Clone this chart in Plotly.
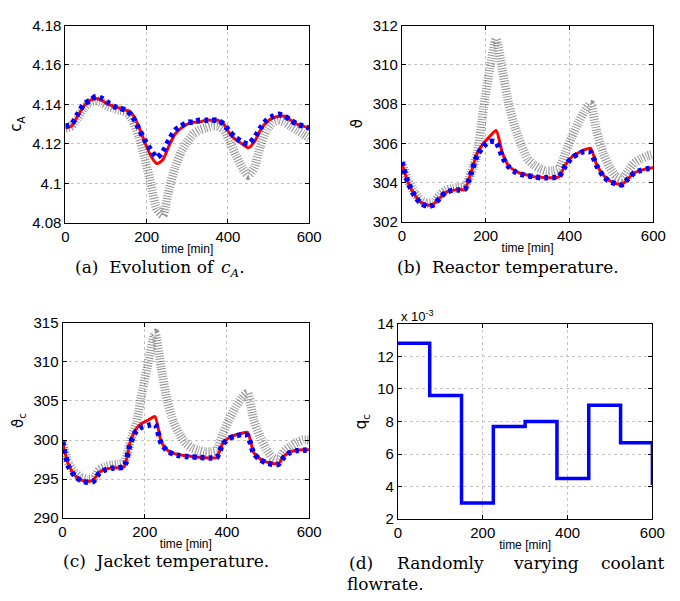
import plotly.graph_objects as go

# ---------------- data ----------------
t = [0, 15, 30, 45, 60, 75, 90, 105, 120, 135, 150, 165, 180, 195, 210, 225,
     240, 255, 270, 285, 300, 315, 330, 345, 360, 375, 390, 405, 420, 435, 450,
     465, 480, 495, 510, 525, 540, 555, 570, 585, 600]

ca_red = [4.128, 4.129, 4.134, 4.139, 4.142, 4.143, 4.142, 4.140, 4.139, 4.138, 4.137,
          4.135, 4.129, 4.121, 4.114, 4.110, 4.112, 4.119, 4.125, 4.128, 4.130,
          4.131, 4.131, 4.132, 4.132, 4.132, 4.130, 4.125, 4.122, 4.120, 4.118,
          4.121, 4.127, 4.131, 4.133, 4.134, 4.134, 4.132, 4.130, 4.129, 4.128]
ca_blue = [4.129, 4.130, 4.135, 4.140, 4.142, 4.144, 4.143, 4.141, 4.139, 4.138, 4.137,
           4.134, 4.128, 4.122, 4.117, 4.113, 4.116, 4.122, 4.127, 4.129, 4.131,
           4.131, 4.132, 4.132, 4.132, 4.132, 4.130, 4.126, 4.123, 4.121, 4.120,
           4.123, 4.128, 4.132, 4.134, 4.135, 4.134, 4.132, 4.130, 4.129, 4.128]
ca_gray = [4.128, 4.129, 4.133, 4.138, 4.141, 4.142, 4.141, 4.139, 4.138, 4.137, 4.136,
           4.132, 4.124, 4.113, 4.100, 4.087, 4.084, 4.097, 4.108, 4.116, 4.121,
           4.125, 4.127, 4.128, 4.129, 4.129, 4.127, 4.121, 4.114, 4.108, 4.104,
           4.108, 4.119, 4.127, 4.131, 4.132, 4.131, 4.129, 4.127, 4.125, 4.123]

tr_red = [305.0, 304.0, 303.4, 303.0, 302.85, 302.9, 303.2, 303.5, 303.6, 303.65, 303.65,
          304.5, 305.5, 306.0, 306.35, 306.65, 305.5, 304.85, 304.6, 304.45, 304.38,
          304.3, 304.27, 304.25, 304.25, 304.3, 304.9, 305.3, 305.5, 305.65, 305.75,
          304.9, 304.4, 304.1, 303.95, 303.9, 304.2, 304.5, 304.62, 304.7, 304.75]
tr_blue = [305.05, 304.0, 303.35, 302.95, 302.8, 302.85, 303.2, 303.5, 303.6, 303.62, 303.65,
           304.45, 305.4, 305.85, 306.1, 306.05, 305.3, 304.8, 304.55, 304.42, 304.35,
           304.3, 304.25, 304.25, 304.25, 304.3, 304.85, 305.25, 305.45, 305.58, 305.55,
           304.85, 304.35, 304.05, 303.95, 303.88, 304.2, 304.5, 304.62, 304.7, 304.75]
tr_gray = [305.0, 304.1, 303.5, 303.1, 302.95, 303.0, 303.35, 303.6, 303.7, 303.75, 303.8,
           304.5, 305.5, 307.8, 309.8, 311.3, 309.7, 308.0, 306.8, 305.9, 305.2,
           304.9, 304.7, 304.6, 304.6, 304.7, 305.5, 306.3, 307.0, 307.6, 308.0,
           306.6, 305.5, 304.8, 304.35, 304.2, 304.6, 305.0, 305.2, 305.35, 305.45]

tj_red = [299.7, 296.8, 295.5, 294.9, 294.7, 294.9, 295.9, 296.3, 296.4, 296.45, 296.6,
          299.8, 301.5, 302.2, 302.6, 303.0, 299.8, 298.7, 298.3, 298.1, 298.0,
          297.9, 297.8, 297.75, 297.7, 297.75, 299.6, 300.3, 300.65, 300.85, 301.0,
          298.4, 297.6, 297.2, 297.0, 297.0, 298.0, 298.5, 298.7, 298.75, 298.75]
tj_blue = [299.8, 296.6, 295.4, 294.8, 294.6, 294.7, 295.8, 296.2, 296.4, 296.45, 296.6,
           299.6, 301.2, 301.7, 301.9, 302.0, 299.6, 298.6, 298.2, 298.0, 297.9,
           297.85, 297.8, 297.75, 297.7, 297.75, 299.5, 300.2, 300.5, 300.7, 300.6,
           298.3, 297.5, 297.1, 296.9, 296.9, 297.9, 298.45, 298.65, 298.7, 298.75]
tj_gray = [299.7, 297.0, 295.8, 295.2, 295.0, 295.1, 296.2, 296.6, 296.8, 296.9, 297.1,
           299.8, 302.3, 306.5, 310.3, 313.7, 309.3, 305.0, 302.3, 300.7, 299.6,
           299.0, 298.7, 298.5, 298.5, 298.7, 300.8, 302.6, 304.1, 305.3, 306.0,
           302.6, 300.5, 298.9, 297.8, 297.5, 298.6, 299.2, 299.7, 300.0, 300.0]

q_t = [0, 75, 150, 225, 300, 375, 450, 525, 600]
q_c = [0.0128, 0.0096, 0.0030, 0.0077, 0.0080, 0.0045, 0.0090, 0.0067, 0.0041]

x_ticks = [0, 200, 400, 600]
ca_ticks = [4.08, 4.10, 4.12, 4.14, 4.16, 4.18]
ca_labels = ["4.08", "4.1", "4.12", "4.14", "4.16", "4.18"]
tr_ticks = [302, 304, 306, 308, 310, 312]
tj_ticks = [290, 295, 300, 305, 310, 315]
q_ticks = [0.002, 0.004, 0.006, 0.008, 0.010, 0.012, 0.014]
q_labels = ["2", "4", "6", "8", "10", "12", "14"]

# ---------------- figure ----------------
W, H = 680, 601
fig = go.Figure()

gray_line = dict(color="rgba(60,60,60,0.55)", width=9, dash="1px,1.6px", shape="spline", smoothing=0.6)
red_line = dict(color="#ff0000", width=3, shape="spline", smoothing=0.6)
blue_line = dict(color="#0000ff", width=5.5, dash="4px,4px", shape="spline", smoothing=0.6)


def add_three(xa, ya, g, r, b):
    for y, ln in ((g, gray_line), (r, red_line), (b, blue_line)):
        fig.add_trace(go.Scatter(x=t, y=y, mode="lines", line=ln,
                                 xaxis=xa, yaxis=ya, showlegend=False))


add_three("x", "y", ca_gray, ca_red, ca_blue)
add_three("x2", "y2", tr_gray, tr_red, tr_blue)
add_three("x3", "y3", tj_gray, tj_red, tj_blue)
fig.add_trace(go.Scatter(x=q_t, y=q_c, mode="lines",
                         line=dict(color="#0000ff", width=3.5, shape="hv"),
                         xaxis="x4", yaxis="y4", showlegend=False))

tickfont = dict(family="Liberation Sans, Arial, sans-serif", size=15, color="black")
common = dict(showline=True, linecolor="black", linewidth=1, mirror="ticks",
              ticks="inside", ticklen=4, tickcolor="black",
              showgrid=True, gridcolor="#c4c4c4", griddash="dot", gridwidth=1,
              zeroline=False, tickfont=tickfont)


def px_x(a, b):
    return [a / W, b / W]


def px_y(top, bottom):
    return [1 - bottom / H, 1 - top / H]


xt = dict(text="time [min]", font=dict(family="Liberation Sans, Arial, sans-serif", size=12, color="black"), standoff=0)


def xaxis(dom, anchor):
    return dict(common, domain=dom, anchor=anchor, range=[0, 600], tickvals=x_ticks, title=xt)


ytitle_font = dict(family="DejaVu Sans, sans-serif", size=15, color="black")

fig.update_layout(
    width=W, height=H, margin=dict(l=0, r=0, t=0, b=0),
    paper_bgcolor="white", plot_bgcolor="white",
    xaxis=xaxis(px_x(63, 313), "y"),
    yaxis=dict(common, domain=px_y(17, 220), anchor="x", range=[4.08, 4.18],
               tickvals=ca_ticks, ticktext=ca_labels,
               title=dict(text="c<sub>A</sub>", font=ytitle_font, standoff=6)),
    xaxis2=xaxis(px_x(408, 666), "y2"),
    yaxis2=dict(common, domain=px_y(17, 219), anchor="x2", range=[302, 312],
                tickvals=tr_ticks,
                title=dict(text="ϑ", font=ytitle_font, standoff=6)),
    xaxis3=xaxis(px_x(60, 313), "y3"),
    yaxis3=dict(common, domain=px_y(323, 524), anchor="x3", range=[290, 315],
                tickvals=tj_ticks,
                title=dict(text="ϑ<sub>c</sub>", font=ytitle_font, standoff=6)),
    xaxis4=xaxis(px_x(404, 665), "y4"),
    yaxis4=dict(common, domain=px_y(324, 525), anchor="x4", range=[0.002, 0.014],
                tickvals=q_ticks, ticktext=q_labels,
                title=dict(text="q<sub>c</sub>", font=ytitle_font, standoff=6)),
)

cap_font = dict(family="DejaVu Serif, serif", size=17, color="black")


def cap(text, x, y, xanchor="center"):
    fig.add_annotation(text=text, x=x / W, y=1 - y / H, xref="paper", yref="paper",
                       showarrow=False, xanchor=xanchor, yanchor="middle", font=cap_font)


cap("(a)  Evolution of", 218, 265, "right")
cap("<i>c<sub>A</sub></i>.", 220, 267, "left")
cap("(b)  Reactor temperature.", 517, 265)
cap("(c)  Jacket temperature.", 166, 568)
cap("(d)", 366, 570)
cap("Randomly", 448, 570)
cap("varying", 556, 570)
cap("coolant", 680, 570, "right")
cap("flowrate.", 350, 592, "left")

fig.add_annotation(text="x 10<sup>-3</sup>", x=405 / W, y=1 - 316 / H, xref="paper", yref="paper",
                   showarrow=False, xanchor="left", yanchor="middle",
                   font=dict(family="Liberation Sans, Arial, sans-serif", size=13, color="black"))

fig.write_html("out.html", config={"displayModeBar": False},
               post_script="document.body.style.margin='0';")
